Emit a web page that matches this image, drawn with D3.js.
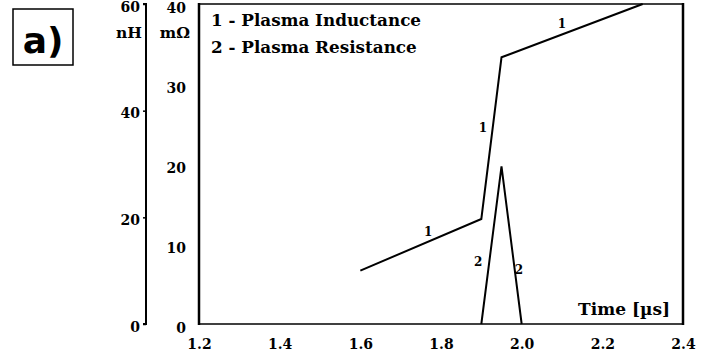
<!DOCTYPE html>
<html>
<head>
<meta charset="utf-8">
<script src="https://cdn.jsdelivr.net/npm/d3@7"></script>
<style>
  html, body { margin: 0; padding: 0; background: #fff; }
  svg { display: block; }
  text { font-family: "DejaVu Serif", serif; font-weight: bold; fill: #000; }
</style>
</head>
<body>
<svg id="chart" width="704" height="357"></svg>
<script>
// Time axis (µs)
const timeTicks = [1.2, 1.4, 1.6, 1.8, 2.0, 2.2, 2.4];
// Plasma inductance (nH) vs time
const inductanceTime = [1.6, 1.9, 1.95, 2.3];
const inductanceValue = [10, 19.7, 50, 60];
// Plasma resistance (mΩ) vs time
const resistanceTime = [1.9, 1.95, 2.0];
const resistanceValue = [0, 19.7, 0];
// Axis ticks
const nHTicks = [0, 20, 40, 60];
const mOhmTicks = [0, 10, 20, 30, 40];
// Curve tags: series, time, value (in the series' own unit)
const tagSeries = ["1", "1", "1", "2", "2"];
const tagTime = [1.768, 1.904, 2.1, 1.892, 1.993];
const tagValue = [17.25, 36.75, 56.25, 7.75, 6.75];

const svg = d3.select("#chart");
const L = 199, R = 683, T = 4, B = 324;

const x = d3.scaleLinear().domain([1.2, 2.4]).range([L, R]);
const yNH = d3.scaleLinear().domain([0, 60]).range([B, T]);
const yMO = d3.scaleLinear().domain([0, 40]).range([B, T]);

// "a)" panel tag
svg.append("rect").attr("x", 13).attr("y", 9).attr("width", 60).attr("height", 56)
  .attr("fill", "none").attr("stroke", "#000").attr("stroke-width", 1.5);
svg.append("text").attr("x", 43).attr("y", 53).attr("text-anchor", "middle")
  .style("font-family", "'DejaVu Sans', sans-serif").style("font-size", "36px").text("a)");

// Outer inductance axis (nH)
const axNH = svg.append("g").attr("transform", `translate(146,0)`)
  .call(d3.axisLeft(yNH).tickValues(nHTicks).tickSize(3).tickPadding(3).tickFormat(d3.format("d")));
axNH.select(".domain").attr("stroke-width", 2).attr("d", `M-3,${T}H0V${B}H-3`);
axNH.selectAll(".tick line").attr("stroke-width", 1.5);
axNH.selectAll("text").attr("dy", "0.5em")
  .style("font-family", "'DejaVu Serif', serif").style("font-weight", "bold").style("font-size", "14px");

// Inner resistance axis (mΩ)
const axMO = svg.append("g").attr("transform", `translate(${L},0)`)
  .call(d3.axisLeft(yMO).tickValues(mOhmTicks).tickSize(0).tickPadding(13).tickFormat(d3.format("d")));
axMO.select(".domain").remove();
axMO.selectAll("text").attr("dy", "0.62em")
  .style("font-family", "'DejaVu Serif', serif").style("font-weight", "bold").style("font-size", "14px");

// Unit labels
svg.append("text").attr("x", 142).attr("y", 38).attr("text-anchor", "end").style("font-size", "15.5px").text("nH");
svg.append("text").attr("x", 190).attr("y", 38).attr("text-anchor", "end").style("font-size", "15.5px").text("mΩ");

// Time axis
const axT = svg.append("g").attr("transform", `translate(0,${B})`)
  .call(d3.axisBottom(x).tickValues(timeTicks).tickSize(0).tickPadding(15).tickFormat(d3.format(".1f")));
axT.select(".domain").remove();
axT.selectAll("text").style("font-family", "'DejaVu Serif', serif").style("font-weight", "bold").style("font-size", "14px");

// Plot frame
svg.append("line").attr("x1", L).attr("x2", R).attr("y1", T).attr("y2", T).attr("stroke", "#000").attr("stroke-width", 1.5);
svg.append("line").attr("x1", L).attr("x2", R).attr("y1", B).attr("y2", B).attr("stroke", "#000").attr("stroke-width", 1.5);
svg.append("line").attr("x1", L).attr("x2", L).attr("y1", T - 1).attr("y2", B + 1).attr("stroke", "#000").attr("stroke-width", 2.5);
svg.append("line").attr("x1", R).attr("x2", R).attr("y1", T - 1).attr("y2", B + 1).attr("stroke", "#000").attr("stroke-width", 2.5);

// Curves
const indLine = d3.line().x((d, i) => x(inductanceTime[i])).y(d => yNH(d));
svg.append("path").attr("d", indLine(inductanceValue))
  .attr("fill", "none").attr("stroke", "#000").attr("stroke-width", 2).attr("stroke-linejoin", "miter");
const resLine = d3.line().x((d, i) => x(resistanceTime[i])).y(d => yMO(d));
svg.append("path").attr("d", resLine(resistanceValue))
  .attr("fill", "none").attr("stroke", "#000").attr("stroke-width", 2).attr("stroke-linejoin", "miter");

// Curve tags
tagSeries.forEach((s, i) => {
  const y = s === "1" ? yNH(tagValue[i]) : yMO(tagValue[i]);
  svg.append("text").attr("x", x(tagTime[i])).attr("y", y).attr("text-anchor", "middle")
    .attr("dy", "0.35em").style("font-size", "12px").text(s);
});

// Legend
svg.append("text").attr("x", 211).attr("y", 26).style("font-size", "16.8px").text("1 - Plasma Inductance");
svg.append("text").attr("x", 211).attr("y", 53).style("font-size", "16.8px").text("2 - Plasma Resistance");

// Time axis title
svg.append("text").attr("x", 670).attr("y", 315).attr("text-anchor", "end").style("font-size", "17px").text("Time [µs]");
</script>
</body>
</html>
